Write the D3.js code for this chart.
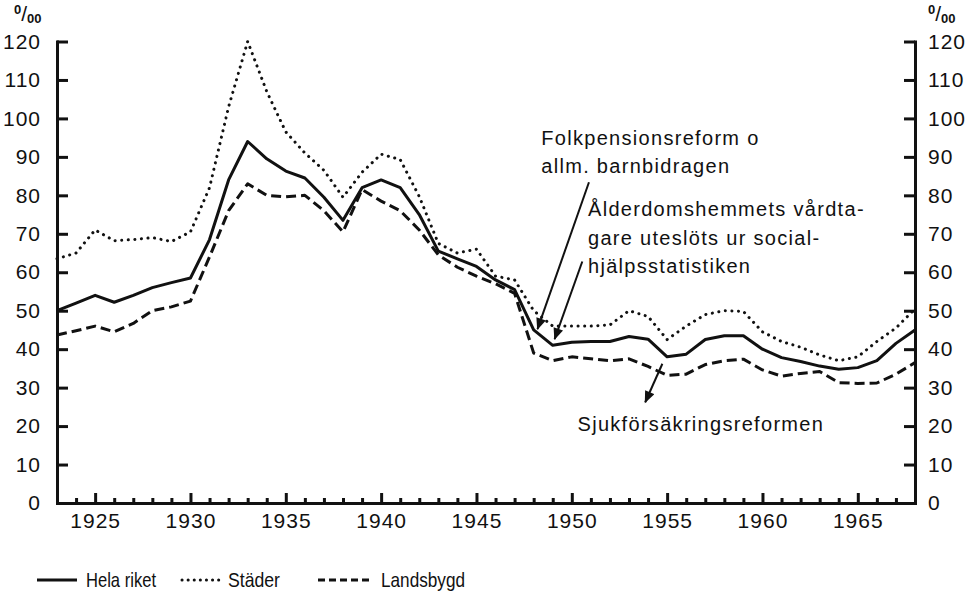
<!DOCTYPE html>
<html>
<head>
<meta charset="utf-8">
<script src="https://cdn.jsdelivr.net/npm/d3@7/dist/d3.min.js"></script>
<style>
  body { margin: 0; background: #fff; }
  svg text { font-family: "Liberation Sans", Arial, sans-serif; fill: #111; }
  .axis path, .axis line { stroke: #111; stroke-width: 3; }
  .axis text { font-size: 21px; letter-spacing: 1px; }
  .series { fill: none; stroke: #111; stroke-width: 3; stroke-linejoin: round; }
  .note { font-size: 20px; letter-spacing: 1.3px; }
  .legend-text { font-size: 21px; }
</style>
</head>
<body>
<svg id="chart" width="973" height="604"></svg>
<script>
// years on the x axis (one value per year)
const years = [1923, 1924, 1925, 1926, 1927, 1928, 1929, 1930, 1931, 1932,
  1933, 1934, 1935, 1936, 1937, 1938, 1939, 1940, 1941, 1942,
  1943, 1944, 1945, 1946, 1947, 1948, 1949, 1950, 1951, 1952,
  1953, 1954, 1955, 1956, 1957, 1958, 1959, 1960, 1961, 1962,
  1963, 1964, 1965, 1966, 1967, 1968];

// per mille
const helaRiket = [50, 52, 54, 52.2, 54, 56, 57.3, 58.5, 68.5, 84,
  94, 89.5, 86.3, 84.5, 79.5, 73.5, 82, 84, 82, 75,
  65.5, 63.5, 61.5, 58, 55.5, 45, 41, 41.8, 42, 42,
  43.3, 42.6, 38, 38.7, 42.5, 43.5, 43.5, 40, 37.8, 36.8,
  35.6, 34.8, 35.2, 37, 41.5, 45];

const stader = [63.5, 65, 71, 68.2, 68.5, 69, 68, 70.5, 82, 103,
  120, 107, 96.5, 91, 86.5, 79.5, 86, 90.7, 89.3, 79.7,
  67.5, 65, 66, 59, 58, 50, 46, 46, 46, 46.3,
  50, 48.5, 42.5, 46, 49, 50, 49.8, 44.5, 42, 40.5,
  38.5, 37, 38, 42, 45.5, 50.5];

const landsbygd = [43.7, 44.8, 46, 44.5, 46.7, 50, 51, 52.5, 64, 76,
  83, 80, 79.6, 80, 76, 70.5, 81.5, 78.5, 76, 71,
  64.5, 61.3, 59, 57, 54.5, 39, 37, 38, 37.5, 37,
  37.5, 35.5, 33.2, 33.5, 36, 37, 37.4, 34.6, 33, 33.7,
  34.2, 31.3, 31.1, 31.2, 33.5, 36.5];

const yTicks = [0, 10, 20, 30, 40, 50, 60, 70, 80, 90, 100, 110, 120];
const xLabelYears = [1925, 1930, 1935, 1940, 1945, 1950, 1955, 1960, 1965];

const seriesNames = ["Hela riket", "Städer", "Landsbygd"];

// annotations: text lines anchored at [year, value], arrows from tail to tip
const noteLines = [
  { text: "Folkpensionsreform o", at: [1948.4, 93.1] },
  { text: "allm. barnbidragen", at: [1948.4, 85.8] },
  { text: "Ålderdomshemmets vårdta-", at: [1950.85, 74.6] },
  { text: "gare uteslöts ur social-", at: [1950.85, 67.1] },
  { text: "hjälpsstatistiken", at: [1950.85, 59.7] },
  { text: "Sjukförsäkringsreformen", at: [1950.3, 18.8] }
];
const noteArrows = [
  { from: [1950.9, 83.4], to: [1948.2, 45.2] },
  { from: [1950.55, 62.8], to: [1949.1, 42.6] },
  { from: [1954.75, 36.2], to: [1953.85, 26.2] }
];

const svg = d3.select("#chart");

const x = d3.scaleLinear().domain([1923, 1968]).range([57, 915]);
const y = d3.scaleLinear().domain([0, 120]).range([503, 41.5]);

svg.append("defs").append("marker")
  .attr("id", "arrowhead")
  .attr("markerUnits", "userSpaceOnUse")
  .attr("viewBox", "0 0 12 10")
  .attr("refX", 11)
  .attr("refY", 5)
  .attr("markerWidth", 13)
  .attr("markerHeight", 10)
  .attr("orient", "auto")
  .append("path")
  .attr("d", "M0,0 L12,5 L0,10 Z")
  .attr("fill", "#111");

// axes
svg.append("g")
  .attr("class", "axis")
  .attr("transform", `translate(${x(1923)},0)`)
  .call(d3.axisLeft(y).tickValues(yTicks).tickSize(-11).tickSizeOuter(0).tickPadding(16));

const rightAxis = svg.append("g")
  .attr("class", "axis")
  .attr("transform", `translate(${x(1968)},0)`)
  .call(d3.axisRight(y).tickValues(yTicks).tickSize(-11).tickSizeOuter(0).tickPadding(13));

rightAxis.selectAll("text").attr("text-anchor", "start");

const minorYears = years.filter((d) => d % 5 !== 0);

svg.append("g")
  .attr("class", "axis")
  .attr("transform", `translate(0,${y(0)})`)
  .call(d3.axisBottom(x).tickValues(minorYears).tickSize(-5).tickSizeOuter(0).tickFormat(""));

svg.append("g")
  .attr("class", "axis")
  .attr("transform", `translate(0,${y(0)})`)
  .call(d3.axisBottom(x).tickValues(xLabelYears).tickSize(-10).tickSizeOuter(0)
    .tickPadding(10).tickFormat(d3.format("d")));

svg.selectAll(".axis path.domain").attr("stroke-linecap", "square");

// per mille unit markers above each y axis
function perMille(px, py) {
  const t = svg.append("text").attr("x", px).attr("y", py).attr("font-weight", "bold");
  t.append("tspan").attr("font-size", 13).attr("dy", -7).text("0");
  t.append("tspan").attr("font-size", 21).attr("dy", 7).attr("font-weight", "normal").text("/");
  t.append("tspan").attr("font-size", 13).attr("dy", 2).text("00");
}
perMille(14, 21);
perMille(928, 21);

// lines
const line = d3.line()
  .x((d) => x(d[0]))
  .y((d) => y(d[1]));

const seriesData = [helaRiket, stader, landsbygd].map((vals) => years.map((yr, i) => [yr, vals[i]]));
const dashes = [null, "0.1 6.5", "10 5"];

svg.append("g").selectAll("path")
  .data(seriesData)
  .join("path")
  .attr("class", "series")
  .attr("stroke-linecap", (d, i) => i === 1 ? "round" : "butt")
  .attr("stroke-dasharray", (d, i) => dashes[i])
  .attr("d", line);

// annotations
svg.append("g").selectAll("text")
  .data(noteLines)
  .join("text")
  .attr("class", "note")
  .attr("x", (d) => x(d.at[0]))
  .attr("y", (d) => y(d.at[1]))
  .text((d) => d.text);

svg.append("g").selectAll("line")
  .data(noteArrows)
  .join("line")
  .attr("x1", (d) => x(d.from[0]))
  .attr("y1", (d) => y(d.from[1]))
  .attr("x2", (d) => x(d.to[0]))
  .attr("y2", (d) => y(d.to[1]))
  .attr("stroke", "#111")
  .attr("stroke-width", 2)
  .attr("marker-end", "url(#arrowhead)");

// legend (condensed lettering as in the original)
const legendItems = [
  { name: seriesNames[0], x0: 37, x1: 77, width: 70, dash: null, cap: "butt" },
  { name: seriesNames[1], x0: 182, x1: 219, width: 52, dash: "0.1 6", cap: "round" },
  { name: seriesNames[2], x0: 318, x1: 372, width: 84, dash: "7 4", cap: "butt" }
];

const legend = svg.append("g").attr("class", "legend");
legendItems.forEach((item) => {
  legend.append("line")
    .attr("x1", item.x0).attr("x2", item.x1)
    .attr("y1", 580).attr("y2", 580)
    .attr("stroke", "#111")
    .attr("stroke-width", 3)
    .attr("stroke-linecap", item.cap)
    .attr("stroke-dasharray", item.dash);
  legend.append("text")
    .attr("class", "legend-text")
    .attr("x", item.x1 + 9)
    .attr("y", 587)
    .attr("textLength", item.width)
    .attr("lengthAdjust", "spacingAndGlyphs")
    .text(item.name);
});
</script>
</body>
</html>
